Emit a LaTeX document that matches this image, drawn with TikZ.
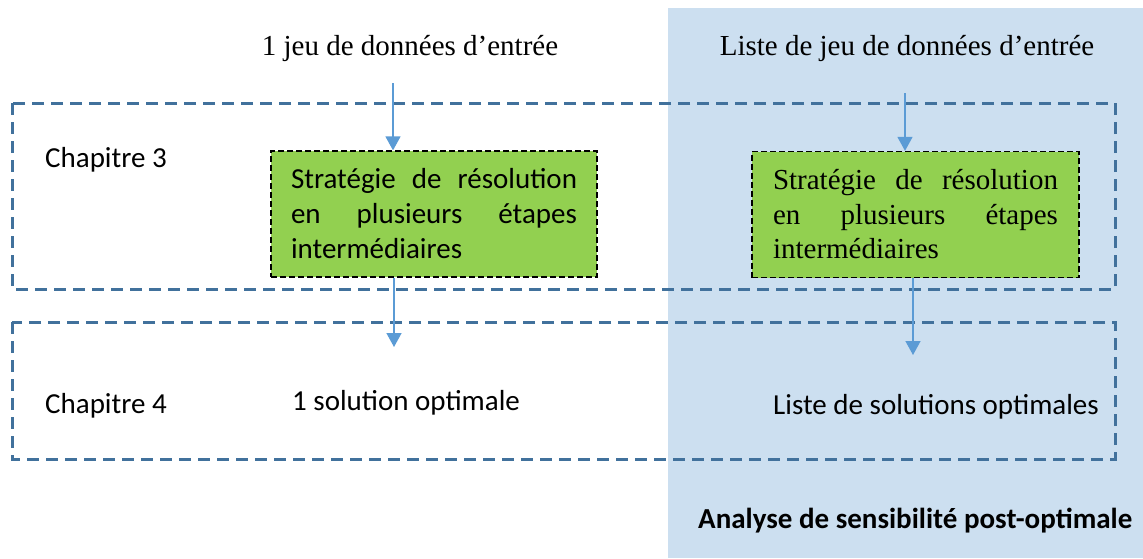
\documentclass[tikz,border=0pt]{standalone}
\usepackage{fontspec}
\setmainfont{Liberation Serif}
\newfontfamily\calibri{Carlito}
\usetikzlibrary{arrows.meta}
\definecolor{bgBlue}{HTML}{CCDFF0}
\definecolor{frameBlue}{HTML}{41719C}
\definecolor{arrBlue}{HTML}{5B9BD5}
\definecolor{boxGreen}{HTML}{92D050}

\begin{document}
\begin{tikzpicture}[x=1pt,y=-1pt,
  box/.style={draw=black,line width=1.3pt,dash pattern=on 6pt off 3pt,fill=boxGreen,text width=286pt,inner xsep=20pt,inner ysep=0pt,minimum height=126pt,align=justify},
  frame/.style={draw=frameBlue,line width=3pt,dash pattern=on 12pt off 7pt},
  arr/.style={-{Triangle[length=14pt,width=15pt]},line width=1.5pt,arrBlue},
  lbl/.style={inner sep=0pt,anchor=base west,font=\calibri\fontsize{29}{35}\selectfont},
  serif/.style={inner sep=0pt,anchor=base,font=\fontsize{29}{35}\selectfont}
]
\useasboundingbox (0,0) rectangle (1143,558);
\fill[bgBlue] (668,8) rectangle (1143,558);
\draw[frame] (12,103) rectangle (1115,289);
\draw[frame] (12,322) rectangle (1115,459);
\node[serif] (in1) at (410,55) {1 jeu de données d’entrée};
\node[serif] (in2) at (907,55) {Liste de jeu de données d’entrée};
\node[lbl] (ch3) at (45,167) {Chapitre 3};
\node[lbl] (ch4) at (45,413) {Chapitre 4};
\node[box,font=\calibri\fontsize{29}{35}\selectfont] (strat1) at (434,214) {Stratégie de résolution\linebreak en plusieurs étapes\linebreak intermédiaires};
\node[box,font=\fontsize{29}{34.5}\selectfont,text width=285pt,inner xsep=21pt] (strat2) at (915.5,214.5) {Stratégie de résolution\linebreak en plusieurs étapes\linebreak intermédiaires};
\node[lbl] (sol1) at (292,410) {1 solution optimale};
\node[lbl] (sol2) at (773,414) {Liste de solutions optimales};
\node[lbl,font=\calibri\bfseries\fontsize{29}{35}\selectfont] (sens) at (698,528) {Analyse de sensibilité post-optimale};
\coordinate (a1) at (393,83);
\coordinate (b1) at (394,347);
\coordinate (a2) at (905,93);
\coordinate (b2) at (913,355);
\draw[arr] (a1) -- (a1 |- strat1.north);
\draw[arr] (b1 |- strat1.south) -- (b1);
\draw[arr] (a2) -- (a2 |- strat2.north);
\draw[arr] (b2 |- strat2.south) -- (b2);
\end{tikzpicture}
\end{document}
